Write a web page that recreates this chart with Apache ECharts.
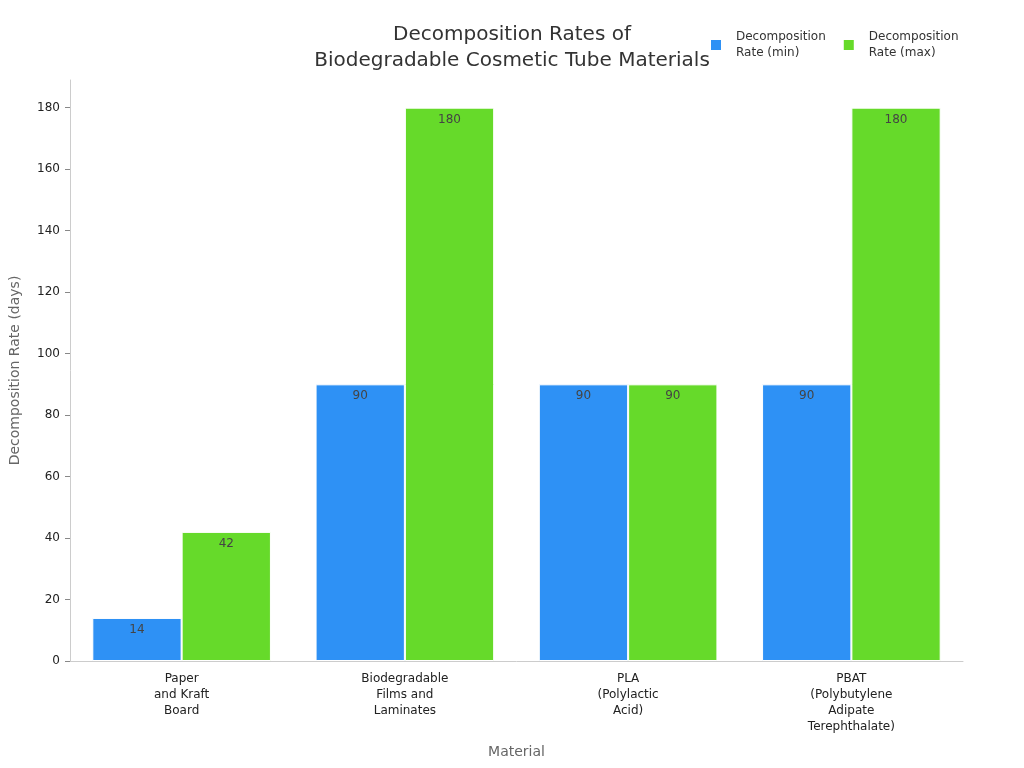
<!DOCTYPE html>
<html>
<head>
<meta charset="utf-8">
<script src="https://cdn.jsdelivr.net/npm/echarts@6/dist/echarts.min.js"></script>
<style>
  html, body { margin: 0; padding: 0; background: #fff; }
  #main { width: 1024px; height: 768px; }
</style>
</head>
<body>
<div id="main"></div>
<script>
var materials = [
  'Paper\nand Kraft\nBoard',
  'Biodegradable\nFilms and\nLaminates',
  'PLA\n(Polylactic\nAcid)',
  'PBAT\n(Polybutylene\nAdipate\nTerephthalate)'
];
var rateMin = [14, 90, 90, 90];
var rateMax = [42, 180, 90, 180];
var yTicks = [0, 20, 40, 60, 80, 100, 120, 140, 160, 180];

var chart = echarts.init(document.getElementById('main'));

// label style shared by both series
var barLabel = {
  show: true,
  position: 'insideTop',
  distance: 6,
  color: '#444',
  fontSize: 12,
  fontFamily: 'DejaVu Sans'
};

chart.setOption({
  textStyle: { fontFamily: 'DejaVu Sans' },
  title: {
    text: 'Decomposition Rates of\nBiodegradable Cosmetic Tube Materials',
    left: 507,
    textAlign: 'center',
    top: 17,
    textStyle: {
      color: '#333',
      fontSize: 20,
      fontWeight: 'normal',
      lineHeight: 26,
      fontFamily: 'DejaVu Sans'
    }
  },
  color: ['#2E91F5', '#66DA2A'],
  legend: {
    top: 24,
    left: 704,
    itemWidth: 12,
    itemHeight: 12,
    itemGap: 16,
    icon: 'rect',
    textStyle: { color: '#333', fontSize: 12, lineHeight: 16, padding: [0, 0, 0, 9] },
    data: ['Decomposition\nRate (min)', 'Decomposition\nRate (max)']
  },
  grid: {
    left: 67,
    right: 61,
    top: 80,
    bottom: 107,
    containLabel: false
  },
  xAxis: {
    type: 'category',
    data: materials,
    name: 'Material',
    nameLocation: 'middle',
    nameGap: 84,
    nameTextStyle: { color: '#666', fontSize: 14 },
    axisLine: { lineStyle: { color: '#ccc' } },
    axisTick: { alignWithLabel: true, lineStyle: { color: '#888' } },
    axisLabel: { color: '#222', fontSize: 12, lineHeight: 16, margin: 10, interval: 0 }
  },
  yAxis: {
    type: 'value',
    min: 0,
    max: 189,
    interval: 20,
    name: 'Decomposition Rate (days)',
    nameLocation: 'middle',
    nameGap: 48,
    nameTextStyle: { color: '#666', fontSize: 14 },
    axisLine: { show: true, lineStyle: { color: '#ccc' } },
    axisTick: { show: true, customValues: yTicks, lineStyle: { color: '#888' } },
    axisLabel: { customValues: yTicks, color: '#222', fontSize: 12, margin: 10 },
    splitLine: { show: false }
  },
  series: [{
    name: 'Decomposition\nRate (min)',
    type: 'bar',
    data: rateMin,
    barGap: '0%',
    barCategoryGap: '20%',
    itemStyle: { borderColor: '#fff', borderWidth: 1 },
    label: barLabel
  }, {
    name: 'Decomposition\nRate (max)',
    type: 'bar',
    data: rateMax,
    barGap: '0%',
    barCategoryGap: '20%',
    itemStyle: { borderColor: '#fff', borderWidth: 1 },
    label: barLabel
  }]
});
</script>
</body>
</html>
